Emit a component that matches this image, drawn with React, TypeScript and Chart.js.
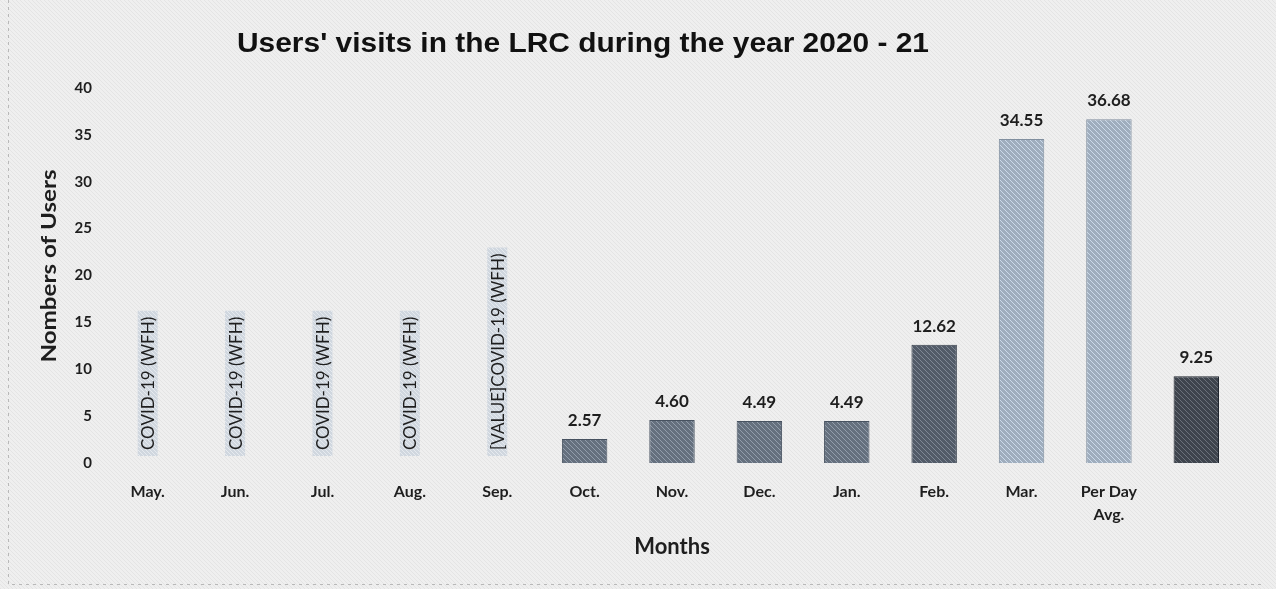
import React, { useEffect, useRef } from "react";
import { Chart, registerables } from "chart.js";

Chart.register(...registerables);

const chartTitle = "Users' visits in the LRC during the year 2020 - 21";
const xTitle = "Months";
const yTitle = "Nombers of Users";
const categories: (string | string[])[] = [
  "May.", "Jun.", "Jul.", "Aug.", "Sep.", "Oct.", "Nov.", "Dec.", "Jan.", "Feb.", "Mar.", ["Per Day", "Avg."], "",
];
const values: (number | null)[] = [null, null, null, null, null, 2.57, 4.6, 4.49, 4.49, 12.62, 34.55, 36.68, 9.25];
const covidLabels: string[] = [
  "COVID-19 (WFH)", "COVID-19 (WFH)", "COVID-19 (WFH)", "COVID-19 (WFH)", "[VALUE]COVID-19 (WFH)",
  "", "", "", "", "", "", "", "",
];
const barColors: string[] = [
  "#6e7987", "#6e7987", "#6e7987", "#6e7987", "#6e7987",
  "#65707e", "#65707e", "#65707e", "#65707e", "#525b68", "#9fadbd", "#9fadbd", "#3e444d",
];
const yTicks = [0, 5, 10, 15, 20, 25, 30, 35, 40];

function makePattern(base: string, line: string, step = 5): CanvasPattern | string {
  const c = document.createElement("canvas");
  c.width = step * 2;
  c.height = step * 2;
  const g = c.getContext("2d");
  if (!g) return base;
  g.fillStyle = base;
  g.fillRect(0, 0, c.width, c.height);
  g.strokeStyle = line;
  g.lineWidth = 1;
  for (let k = -2; k <= 2; k++) {
    g.beginPath();
    g.moveTo(k * step, 0);
    g.lineTo(k * step + c.height, c.height);
    g.stroke();
  }
  const p = g.createPattern(c, "repeat");
  return p || base;
}

function shade(hex: string, amt: number): string {
  const n = parseInt(hex.slice(1), 16);
  const r = Math.max(0, Math.min(255, ((n >> 16) & 255) + amt));
  const gg = Math.max(0, Math.min(255, ((n >> 8) & 255) + amt));
  const b = Math.max(0, Math.min(255, (n & 255) + amt));
  return `rgb(${r},${gg},${b})`;
}

const FONT = "Lato, 'Open Sans', sans-serif";

export default function App() {
  const ref = useRef<HTMLCanvasElement | null>(null);

  useEffect(() => {
    document.body.style.margin = "0";
    const canvas = ref.current;
    if (!canvas) return;

    const bgPattern = makePattern("#efefef", "#e4e4e4", 4);
    const boxPattern = makePattern("#d0d7df", "#e6eaef", 4);
    const fills = barColors.map((c) => makePattern(c, shade(c, 45), 5));
    const borders = barColors.map((c) => shade(c, -30));

    const bgPlugin = {
      id: "bg",
      beforeDraw(chart: any) {
        const ctx = chart.ctx;
        ctx.save();
        ctx.fillStyle = bgPattern;
        ctx.fillRect(0, 0, chart.width, chart.height);
        ctx.strokeStyle = "#b8b8b8";
        ctx.setLineDash([3, 4]);
        ctx.lineWidth = 1;
        ctx.beginPath();
        ctx.moveTo(8.5, 0);
        ctx.lineTo(8.5, 584.5);
        ctx.lineTo(chart.width - 12, 584.5);
        ctx.stroke();
        ctx.restore();
        // chart title
        ctx.save();
        ctx.font = "bold 26px 'Liberation Sans', Arial, sans-serif";
        const w = ctx.measureText(chartTitle).width;
        ctx.translate(583, 44);
        ctx.scale(692 / w, 1.08);
        ctx.fillStyle = "#111";
        ctx.textAlign = "center";
        ctx.textBaseline = "middle";
        ctx.fillText(chartTitle, 0, 0);
        ctx.restore();
        // y axis title
        ctx.save();
        ctx.font = `bold 20px ${FONT}`;
        const yw = ctx.measureText(yTitle).width;
        ctx.translate(50, 266);
        ctx.rotate(-Math.PI / 2);
        ctx.scale(193 / yw, 1);
        ctx.fillStyle = "#1e1e1e";
        ctx.textAlign = "center";
        ctx.textBaseline = "middle";
        ctx.fillText(yTitle, 0, 0);
        ctx.restore();
      },
    };

    const labelsPlugin = {
      id: "labels",
      afterDatasetsDraw(chart: any) {
        const ctx = chart.ctx;
        const meta = chart.getDatasetMeta(0);
        const xs = chart.scales.x;
        const ys = chart.scales.y;
        values.forEach((v, i) => {
          const x = xs.getPixelForValue(i);
          if (v != null) {
            const bar = meta.data[i];
            ctx.save();
            ctx.font = `bold 17px ${FONT}`;
            ctx.fillStyle = "#1e1e1e";
            ctx.textAlign = "center";
            ctx.textBaseline = "bottom";
            ctx.fillText(v.toFixed(2), x, bar.y - 10);
            ctx.restore();
          } else if (covidLabels[i]) {
            const base = ys.getPixelForValue(0);
            ctx.save();
            ctx.font = `17px ${FONT}`;
            const tw = ctx.measureText(covidLabels[i]).width;
            const boxBottom = base - 7;
            const boxH = tw + 12;
            const boxW = 20;
            ctx.fillStyle = boxPattern;
            ctx.fillRect(x - boxW / 2, boxBottom - boxH, boxW, boxH);
            ctx.translate(x + 1, boxBottom - 6);
            ctx.rotate(-Math.PI / 2);
            ctx.fillStyle = "#1e1e1e";
            ctx.textAlign = "left";
            ctx.textBaseline = "middle";
            ctx.fillText(covidLabels[i], 0, 0);
            ctx.restore();
          }
        });
      },
    };

    const chart = new Chart(canvas, {
      type: "bar",
      data: {
        labels: categories,
        datasets: [
          {
            data: values as any,
            backgroundColor: fills as any,
            borderColor: borders,
            borderWidth: 1,
            barPercentage: 0.52,
            categoryPercentage: 1,
          },
        ],
      },
      options: {
        responsive: false,
        animation: false,
        events: [],
        layout: { padding: { top: 88, right: 36, left: 0, bottom: 0 } },
        plugins: { legend: { display: false }, tooltip: { enabled: false }, title: { display: false } },
        scales: {
          x: {
            grid: { display: false, drawTicks: false },
            border: { display: false },
            ticks: {
              color: "#1e1e1e",
              font: { family: FONT, size: 16, weight: "bold", lineHeight: 1.4 },
              padding: 18,
              maxRotation: 0,
              autoSkip: false,
            },
            title: {
              display: true,
              text: xTitle,
              color: "#1e1e1e",
              font: { family: FONT, size: 22, weight: "bold" },
              padding: { top: 0, bottom: 29 },
            },
            afterFit(scale: any) {
              scale.height = 126;
            },
          },
          y: {
            min: 0,
            max: 40,
            afterBuildTicks(scale: any) {
              scale.ticks = yTicks.map((v) => ({ value: v }));
            },
            grid: { display: false, drawTicks: false },
            border: { display: false },
            ticks: {
              color: "#1e1e1e",
              font: { family: FONT, size: 15, weight: "bold" },
              padding: 12,
            },
            title: { display: false },
            afterFit(scale: any) {
              scale.width = 104;
            },
          },
        },
      },
      plugins: [bgPlugin, labelsPlugin],
    });

    return () => chart.destroy();
  }, []);

  return <canvas ref={ref} width={1276} height={589} style={{ display: "block" }} />;
}
